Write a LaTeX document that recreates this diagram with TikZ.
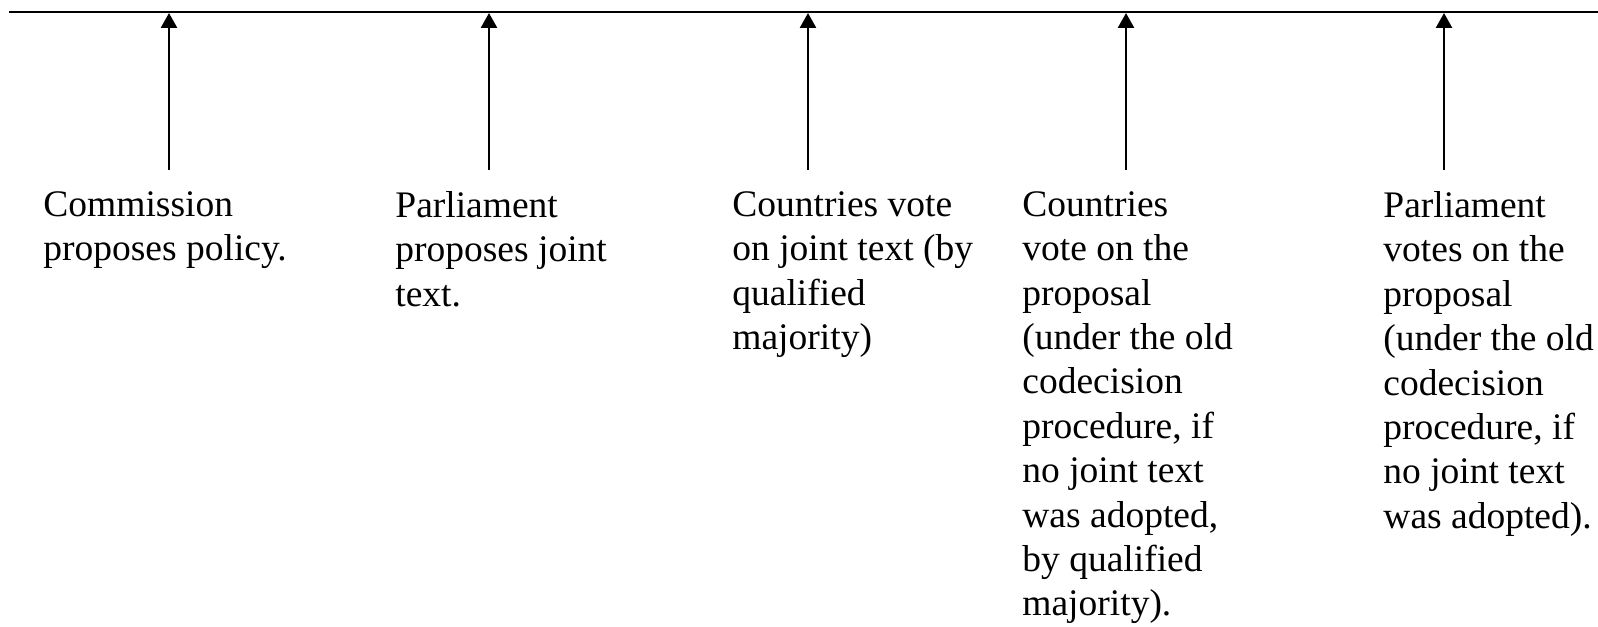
\documentclass[tikz,border=0pt]{standalone}
\usepackage{fontspec}
\setmainfont{Liberation Serif}
\usepackage{tikz}
\usetikzlibrary{arrows.meta, positioning}

\tikzset{
  steptext/.style={anchor=north west, inner sep=0pt, align=left,
    font=\fontsize{18.75}{22.2}\selectfont},
  uparrow/.style={line width=1.3pt, -{Triangle[length=7.5pt,width=8pt]}}
}

\begin{document}
\begin{tikzpicture}[x=0.5pt, y=-0.5pt]
				\useasboundingbox (0, 0) rectangle (1598, 626);

				% time line
				\coordinate (lstart) at (9, 12);
				\coordinate (lend) at (1598, 12);
				\draw[line width=1.3pt] (lstart) -- (lend);

				% the five steps
				\node[steptext] (commission) at (43, 191) {Commission\\proposes policy.};
				\node[steptext] (parljoint) at (395, 191) {Parliament\\proposes joint\\text.};
				\node[steptext] (ctrjoint) at (732, 191) {Countries vote\\on joint text (by\\qualified\\majority)};
				\node[steptext] (ctrprop) at (1022, 191) {Countries\\vote on the\\proposal\\(under the old\\codecision\\procedure, if\\no joint text\\was adopted,\\by qualified\\majority).};
				\node[steptext] (parlprop) at (1383, 191) {Parliament\\votes on the\\proposal\\(under the old\\codecision\\procedure, if\\no joint text\\was adopted).};

				\coordinate (b1) at (169, 170);
				\coordinate (t1) at (169, 13);
				\coordinate (b2) at (489, 170);
				\coordinate (t2) at (489, 13);
				\coordinate (b3) at (808, 170);
				\coordinate (t3) at (808, 13);
				\coordinate (b4) at (1126, 170);
				\coordinate (t4) at (1126, 13);
				\coordinate (b5) at (1444, 170);
				\coordinate (t5) at (1444, 13);

				\draw[uparrow] (b1) -- (t1);
				\draw[uparrow] (b2) -- (t2);
				\draw[uparrow] (b3) -- (t3);
				\draw[uparrow] (b4) -- (t4);
				\draw[uparrow] (b5) -- (t5);
			\end{tikzpicture}
\end{document}
